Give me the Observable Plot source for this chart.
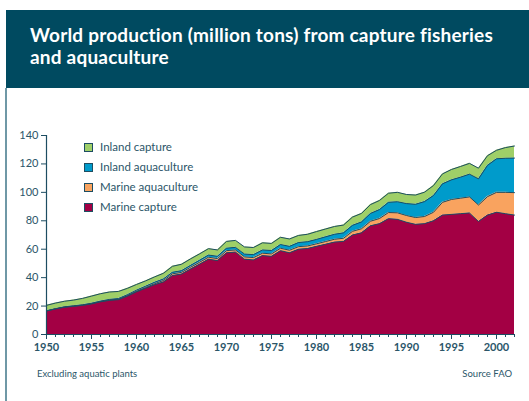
<!DOCTYPE html>
<html>
<head>
<meta charset="utf-8">
<script src="https://cdn.jsdelivr.net/npm/d3@7"></script>
<script src="https://cdn.jsdelivr.net/npm/@observablehq/plot@0.6"></script>
<style>
  html, body { margin: 0; padding: 0; }
  body { width: 529px; height: 401px; position: relative; overflow: hidden; background: #fff; font-family: Lato, "Open Sans", sans-serif; }
  #header { position: absolute; left: 6px; top: 10px; width: 523px; height: 78px; background: #004a60; }
  #title { position: absolute; left: 24px; top: 14px; color: #fff; font-weight: 700; font-size: 19px; line-height: 22px; letter-spacing: 0.2px; white-space: nowrap; }
  #vline { position: absolute; left: 5px; top: 88px; width: 2px; height: 313px; background: #6f98a6; }
  #chart { position: absolute; left: 0; top: 88px; }
  #legend { position: absolute; left: 84px; top: 139px; font-size: 11.5px; color: #2b5669; }
  .item { position: relative; height: 20px; line-height: 16px; }
  .sw { position: absolute; left: 0; top: 4px; width: 7px; height: 7px; border: 1px solid #1d4d62; }
  .lab { position: absolute; left: 16px; top: 0; white-space: nowrap; }
  .cap { position: absolute; top: 368px; font-size: 9.5px; color: #2b5669; }
</style>
</head>
<body>
<div id="header"><div id="title">World production (million tons) from capture fisheries<br>and aquaculture</div></div>
<div id="vline"></div>
<div id="chart"></div>
<div id="legend"></div>
<div class="cap" style="left:37px">Excluding aquatic plants</div>
<div class="cap" style="right:17px">Source FAO</div>
<script>
const years = d3.range(1950, 2003);
const seriesOrder = ["Marine capture", "Marine aquaculture", "Inland aquaculture", "Inland capture"];
const legendOrder = ["Inland capture", "Inland aquaculture", "Marine aquaculture", "Marine capture"];
const colors = ["#a30044", "#f9a35f", "#009bcb", "#9fcf68"];
const yTicks = [0, 20, 40, 60, 80, 100, 120, 140];
const xMajor = [1950, 1955, 1960, 1965, 1970, 1975, 1980, 1985, 1990, 1995, 2000];

const marineCapture = [
  16.5, 18.0, 19.2, 19.8, 20.5, 21.5, 23.0, 24.0, 24.5, 27.0,
  30.0, 32.5, 35.0, 37.0, 41.5, 42.5, 46.0, 49.5, 53.0, 52.0,
  57.5, 58.0, 53.0, 52.5, 55.5, 55.0, 59.0, 57.5, 60.0, 60.5,
  62.0, 63.5, 65.0, 65.5, 70.0, 71.5, 76.5, 78.0, 81.5, 81.0,
  79.0, 77.5, 78.0, 80.0, 84.0, 84.5, 85.0, 85.5, 79.5, 84.0,
  86.0, 85.0, 84.0
];
const marineAquaculture = [
  0.1, 0.1, 0.1, 0.2, 0.2, 0.2, 0.2, 0.3, 0.3, 0.3,
  0.4, 0.5, 0.7, 1.0, 1.2, 1.2, 1.3, 1.3, 1.4, 1.4,
  1.5, 1.5, 1.6, 1.6, 1.7, 1.7, 1.7, 1.8, 1.8, 1.8,
  1.8, 1.9, 2.0, 2.2, 2.6, 2.9, 3.2, 3.6, 4.3, 4.6,
  4.7, 4.8, 5.0, 6.0, 9.0, 10.5, 10.9, 11.3, 11.6, 13.0,
  14.0, 15.0, 15.8
];
const inlandAquaculture = [
  0.1, 0.1, 0.2, 0.2, 0.2, 0.3, 0.3, 0.4, 0.5, 0.7,
  0.8, 0.9, 1.0, 1.1, 1.1, 1.2, 1.3, 1.4, 1.5, 1.6,
  1.7, 1.8, 2.0, 2.1, 2.3, 2.4, 2.6, 2.7, 2.9, 3.0,
  3.1, 3.3, 3.5, 3.8, 4.2, 4.8, 5.5, 6.3, 7.2, 7.8,
  8.4, 9.3, 10.5, 11.8, 13.0, 13.8, 14.8, 16.0, 18.4, 22.0,
  23.6, 24.0, 24.3
];
const inlandCapture = [
  3.8, 3.9, 3.9, 4.0, 4.5, 5.0, 5.2, 5.2, 5.0, 4.5,
  4.0, 3.8, 3.8, 4.0, 4.2, 4.5, 4.6, 4.5, 4.5, 4.5,
  4.8, 4.9, 5.0, 5.0, 5.0, 5.0, 5.1, 5.2, 5.0, 5.2,
  5.5, 5.5, 5.5, 5.5, 5.8, 6.0, 6.2, 6.4, 6.4, 6.6,
  6.4, 6.5, 6.6, 7.0, 7.0, 7.3, 7.5, 7.6, 7.5, 6.8,
  6.0, 7.5, 8.5
];

const seriesValues = {
  "Marine capture": marineCapture,
  "Marine aquaculture": marineAquaculture,
  "Inland aquaculture": inlandAquaculture,
  "Inland capture": inlandCapture
};
const rows = [];
for (const s of seriesOrder) {
  years.forEach((yr, i) => rows.push({year: yr, series: s, value: seriesValues[s][i]}));
}

const ink = "#1d4d62";
const chart = Plot.plot({
  width: 529,
  height: 280,
  marginLeft: 46,
  marginRight: 15,
  marginTop: 47,
  marginBottom: 34,
  style: {fontFamily: "Lato, 'Open Sans', sans-serif", fontSize: "11px", color: "#2b5669", background: "transparent"},
  x: {domain: [years[0], years[years.length - 1]]},
  y: {domain: [yTicks[0], yTicks[yTicks.length - 1]]},
  color: {domain: seriesOrder, range: colors},
  marks: [
    Plot.areaY(rows, {x: "year", y: "value", fill: "series", order: seriesOrder}),
    Plot.lineY(rows, Plot.stackY2({x: "year", y: "value", z: "series", order: seriesOrder, stroke: ink, strokeWidth: 1})),
    Plot.ruleY([yTicks[0]], {stroke: ink, strokeWidth: 1.2}),
    Plot.ruleX([years[0]], {stroke: ink, strokeWidth: 1.2}),
    Plot.axisY({ticks: yTicks, tickSize: 5, tickPadding: 3, label: null, stroke: ink}),
    Plot.axisX({ticks: years, tickSize: 3, tickFormat: () => "", label: null, stroke: ink}),
    Plot.axisX({ticks: xMajor, tickSize: 5, tickPadding: 4, tickFormat: d => String(d), label: null, fontWeight: "bold", fontSize: 11, stroke: ink})
  ]
});
document.getElementById("chart").appendChild(chart);

const legend = document.getElementById("legend");
for (const s of legendOrder) {
  const it = document.createElement("div");
  it.className = "item";
  const sw = document.createElement("div");
  sw.className = "sw";
  sw.style.background = colors[seriesOrder.indexOf(s)];
  const lab = document.createElement("div");
  lab.className = "lab";
  lab.textContent = s;
  it.appendChild(sw); it.appendChild(lab);
  legend.appendChild(it);
}
</script>
</body>
</html>
